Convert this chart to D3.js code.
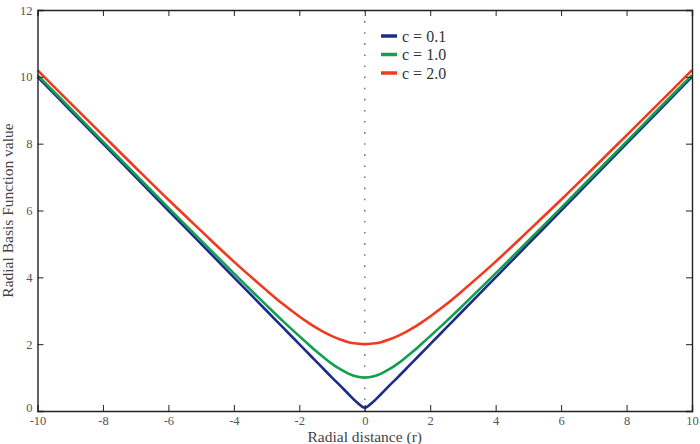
<!DOCTYPE html>
<html>
<head>
<meta charset="utf-8">
<script src="https://cdn.jsdelivr.net/npm/d3@7"></script>
<style>
  body { margin: 0; background: #fff; }
  svg text { font-family: "Liberation Serif", "DejaVu Serif", serif; }
</style>
</head>
<body>
<div></div>
<script>
var width = 700;
var height = 444;

// radial distance samples
var rValues = [-10, -9, -8, -7, -6, -5, -4, -3, -2.5, -2, -1.75, -1.5, -1.25, -1, -0.75, -0.5, -0.25,
	0, 0.25, 0.5, 0.75, 1, 1.25, 1.5, 1.75, 2, 2.5, 3, 4, 5, 6, 7, 8, 9, 10];

var c01 = [10.00, 9.00, 8.00, 7.00, 6.00, 5.00, 4.00, 3.00, 2.50, 2.00, 1.75, 1.50, 1.25, 1.00, 0.76, 0.51, 0.27,
	0.10, 0.27, 0.51, 0.76, 1.00, 1.25, 1.50, 1.75, 2.00, 2.50, 3.00, 4.00, 5.00, 6.00, 7.00, 8.00, 9.00, 10.00];
var c10 = [10.05, 9.06, 8.06, 7.07, 6.08, 5.10, 4.12, 3.16, 2.69, 2.24, 2.02, 1.80, 1.60, 1.41, 1.25, 1.12, 1.03,
	1.00, 1.03, 1.12, 1.25, 1.41, 1.60, 1.80, 2.02, 2.24, 2.69, 3.16, 4.12, 5.10, 6.08, 7.07, 8.06, 9.06, 10.05];
var c20 = [10.20, 9.22, 8.25, 7.28, 6.32, 5.39, 4.47, 3.61, 3.20, 2.83, 2.66, 2.50, 2.36, 2.24, 2.14, 2.06, 2.02,
	2.00, 2.02, 2.06, 2.14, 2.24, 2.36, 2.50, 2.66, 2.83, 3.20, 3.61, 4.47, 5.39, 6.32, 7.28, 8.25, 9.22, 10.20];

var seriesNames = ["c = 0.1", "c = 1.0", "c = 2.0"];
var seriesColors = ["#1c2c8a", "#10a04e", "#f03a1f"];
var seriesValues = [c01, c10, c20];

var xTicks = [-10, -8, -6, -4, -2, 0, 2, 4, 6, 8, 10];
var yTicks = [0, 2, 4, 6, 8, 10, 12];

var margin = {top: 10, right: 8, bottom: 33, left: 37.5};
var serif = "Liberation Serif, DejaVu Serif, serif";

var svg = d3.select("div")
	.append("svg")
	.attr("width", width)
	.attr("height", height);

var x = d3.scaleLinear().domain([-10, 10]).range([margin.left, width - margin.right]);
var y = d3.scaleLinear().domain([0, 12]).range([height - margin.bottom, margin.top]);

// dotted line at r = 0
svg.append("line")
	.attr("x1", x(0)).attr("x2", x(0))
	.attr("y1", y(12)).attr("y2", y(0))
	.attr("stroke", "#777")
	.attr("stroke-width", 1.6)
	.attr("stroke-dasharray", "1.6,9.5");

var line = d3.line()
	.x((d, i) => x(rValues[i]))
	.y(d => y(d))
	.curve(d3.curveCatmullRom.alpha(0.5));

svg.append("g")
	.selectAll("path")
	.data(seriesValues)
	.enter()
	.append("path")
	.attr("d", d => line(d))
	.attr("fill", "none")
	.attr("stroke", (d, i) => seriesColors[i])
	.attr("stroke-width", 2.6);

// axes with inward ticks
var tickColor = "#555";
var bottomAxis = d3.axisBottom(x).tickValues(xTicks).tickSize(-6).tickFormat(d => String(d));
var topAxis = d3.axisTop(x).tickValues(xTicks).tickSize(-6).tickFormat("");
var leftAxis = d3.axisLeft(y).tickValues(yTicks).tickSize(-6).tickFormat(d => String(d));
var rightAxis = d3.axisRight(y).tickValues(yTicks).tickSize(-6).tickFormat("");

var gb = svg.append("g").attr("transform", "translate(0," + y(0) + ")").call(bottomAxis);
var gt = svg.append("g").attr("transform", "translate(0," + y(12) + ")").call(topAxis);
var gl = svg.append("g").attr("transform", "translate(" + x(-10) + ",0)").call(leftAxis);
var gr = svg.append("g").attr("transform", "translate(" + x(10) + ",0)").call(rightAxis);

[gb, gt, gl, gr].forEach(g => {
	g.attr("font-family", serif);
	g.select(".domain").attr("stroke", "#222").attr("stroke-width", 1.4);
	g.selectAll(".tick line").attr("stroke", "#222").attr("stroke-width", 1);
	g.selectAll(".tick text")
		.attr("fill", tickColor)
		.attr("font-size", 12.5);
});
// skip end ticks on the frame itself
gb.selectAll(".tick line").filter(d => d === -10 || d === 10).remove();
gt.selectAll(".tick line").filter(d => d === -10 || d === 10).remove();
gl.selectAll(".tick line").filter(d => d === 0 || d === 12).remove();
gr.selectAll(".tick line").filter(d => d === 0 || d === 12).remove();

gl.selectAll(".tick text").attr("x", -5);
// the 0 label sits just above the -10 label, nudge it up a little
gl.selectAll(".tick text").filter(d => d === 0).attr("y", -4);
gb.selectAll(".tick text").attr("y", 5);

// axis titles
svg.append("text")
	.attr("x", x(0))
	.attr("y", 442)
	.attr("text-anchor", "middle")
	.attr("fill", "#444")
	.attr("font-family", serif)
	.attr("font-size", 15.5)
	.text("Radial distance (r)");

svg.append("text")
	.attr("transform", "translate(13," + y(6) + ") rotate(-90)")
	.attr("text-anchor", "middle")
	.attr("fill", "#444")
	.attr("font-family", serif)
	.attr("font-size", 15.5)
	.text("Radial Basis Function value");

// legend
var legend = svg.append("g")
	.selectAll("g")
	.data(seriesNames)
	.enter()
	.append("g")
	.attr("transform", (d, i) => "translate(381," + (36 + i * 18.5) + ")");

legend.append("line")
	.attr("x1", 0).attr("x2", 16)
	.attr("stroke", (d, i) => seriesColors[i])
	.attr("stroke-width", 3.5);

legend.append("text")
	.attr("x", 21)
	.attr("dy", "0.35em")
	.attr("fill", "#333")
	.attr("font-family", serif)
	.attr("font-size", 16)
	.text(d => d);
</script>
</body>
</html>
